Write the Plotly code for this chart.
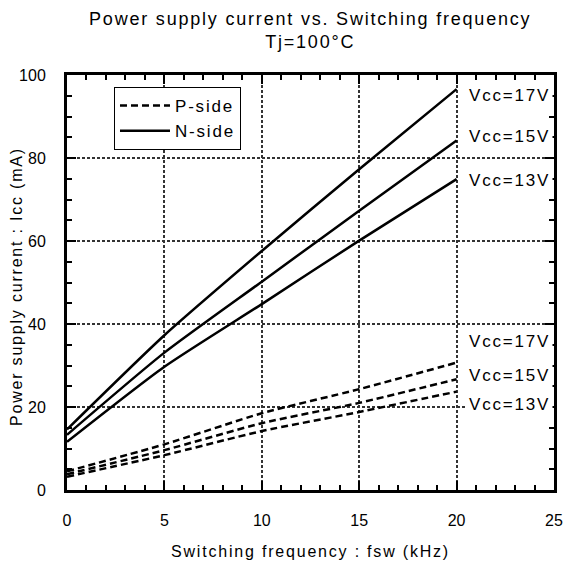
import plotly.graph_objects as go

fsw = [0, 5, 10, 15, 20]

n_17 = [14.6, 37.3, 57.6, 77.3, 96.6]
n_15 = [13.3, 33.1, 50.2, 67.3, 84.2]
n_13 = [11.6, 29.7, 44.8, 60.1, 74.9]

p_17 = [4.5, 11.0, 18.5, 24.3, 30.7]
p_15 = [3.8, 9.6, 16.1, 21.0, 26.7]
p_13 = [3.2, 8.4, 14.2, 18.8, 23.7]

label_text = ["Vcc=17V", "Vcc=15V", "Vcc=13V", "Vcc=17V", "Vcc=15V", "Vcc=13V"]
label_y = [95.0, 85.3, 74.5, 35.9, 27.7, 20.5]

FONT = "Liberation Sans, Arial, sans-serif"

fig = go.Figure()

dash = "7px,4px"
for i, ys in enumerate([p_17, p_15, p_13]):
    fig.add_trace(go.Scatter(
        x=fsw, y=ys, mode="lines", name="P-side",
        line=dict(color="black", width=2.5, dash=dash, shape="spline", smoothing=0.6),
        showlegend=(i == 0), legendgroup="P",
    ))
for i, ys in enumerate([n_17, n_15, n_13]):
    fig.add_trace(go.Scatter(
        x=fsw, y=ys, mode="lines", name="N-side",
        line=dict(color="black", width=2.5, shape="spline", smoothing=0.6),
        showlegend=(i == 0), legendgroup="N",
    ))

for t, yv in zip(label_text, label_y):
    fig.add_annotation(
        x=24.95, y=yv, xref="x", yref="y", text=t, showarrow=False,
        xanchor="right", yanchor="middle",
        font=dict(family=FONT, size=17, color="black"),
        bgcolor="white", borderpad=2,
    )

# y-axis title (placed as a rotated annotation so it can sit as close as in the reference)
fig.add_annotation(
    x=-0.104, y=0.49, xref="paper", yref="paper",
    text="Power supply current : Icc (mA)", showarrow=False, textangle=-90,
    xanchor="center", yanchor="middle",
    font=dict(family=FONT, size=16, color="black"),
)

axis_common = dict(
    showline=True, linewidth=3, linecolor="black", mirror="allticks",
    ticks="inside", ticklen=9, tickwidth=2, tickcolor="black",
    showgrid=True, gridcolor="#333333", gridwidth=1.5, griddash="3px,2px",
    zeroline=False, automargin=False,
    tickfont=dict(family=FONT, size=16, color="black"),
)

fig.update_xaxes(
    range=[0, 25], tickmode="linear", tick0=0, dtick=5,
    minor=dict(dtick=1, ticks="inside", ticklen=5, tickwidth=2, tickcolor="black", showgrid=False),
    title=dict(text="Switching frequency : fsw (kHz)", font=dict(family=FONT, size=16, color="black"), standoff=18),
    ticklabelstandoff=14,
    **axis_common,
)
fig.update_yaxes(
    range=[0, 100], tickmode="linear", tick0=0, dtick=20,
    minor=dict(dtick=5, ticks="inside", ticklen=5, tickwidth=2, tickcolor="black", showgrid=False),
    ticklabelstandoff=15,
    **axis_common,
)

fig.update_layout(
    width=563, height=570, autosize=False,
    margin=dict(l=67, r=9, t=75, b=80),
    paper_bgcolor="white", plot_bgcolor="white",
    title=dict(
        text="Power supply current vs. Switching frequency<br>Tj=100°C",
        x=0.551, xanchor="center", y=0.957, yanchor="top", yref="container",
        font=dict(family=FONT, size=18, color="black"),
    ),
    legend=dict(
        x=0.0965, y=0.971, xanchor="left", yanchor="top",
        bgcolor="white", bordercolor="black", borderwidth=1,
        font=dict(family=FONT, size=17, color="black"),
        tracegroupgap=0, itemwidth=50,
    ),
    font=dict(family=FONT, color="black"),
)

post = (
    "document.body.style.margin='0';"
    "document.body.style.overflow='hidden';"
    "var s=document.createElement('style');"
    "s.textContent='.gtitle,.xtitle,.ytitle,.annotation-text,.legendtext{letter-spacing:1.8px}';"
    "document.head.appendChild(s);"
    "var gd=document.getElementById('{plot_id}');"
    "if(window.Plotly&&gd){Plotly.relayout(gd,{'legend.font.size':17.01,'annotations[0].font.size':17.01,"
    "'annotations[1].font.size':17.01,'annotations[2].font.size':17.01,'annotations[3].font.size':17.01,"
    "'annotations[4].font.size':17.01,'annotations[5].font.size':17.01,'annotations[6].font.size':16.01,"
    "'title.font.size':18.01,'xaxis.title.font.size':16.01});}"
)

fig.write_html("out.html", post_script=post,
               config={"displayModeBar": False, "responsive": False})
